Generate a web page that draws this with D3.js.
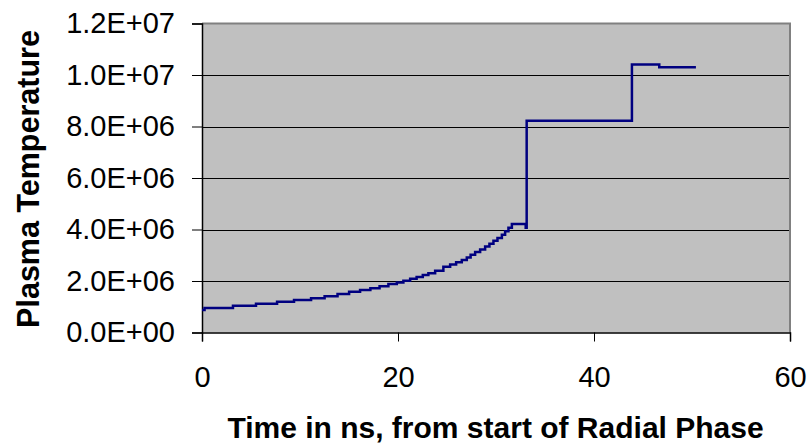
<!DOCTYPE html>
<html>
<head>
<meta charset="utf-8">
<script src="https://cdn.jsdelivr.net/npm/d3@7"></script>
<style>
  html, body { margin: 0; padding: 0; background: #fff; }
  svg { display: block; }
  text { font-family: "Liberation Sans", Arial, sans-serif; fill: #000; }
</style>
</head>
<body>
<svg id="chart" width="810" height="444"></svg>
<script>
// Time (ns) at which each step begins
const times = [0, 0.26, 3.16, 5.51, 7.66, 9.39, 11.13, 12.51, 13.83, 15.01, 16.13, 17.18,
  18.12, 19.02, 19.88, 20.55, 21.24, 21.90, 22.53, 23.10, 23.79, 24.63, 25.32, 25.93,
  26.51, 27.02, 27.41, 27.87, 28.38, 28.89, 29.33, 29.74, 30.15, 30.60, 30.93, 31.27,
  31.62, 33.03, 33.13, 43.87, 46.66, 50.40];
// Plasma temperature (K) for each step
const temps = [0.87e6, 0.955e6, 1.04e6, 1.12e6, 1.19e6, 1.26e6, 1.33e6, 1.41e6, 1.50e6, 1.58e6,
  1.65e6, 1.72e6, 1.80e6, 1.88e6, 1.94e6, 2.01e6, 2.09e6, 2.16e6, 2.23e6, 2.30e6, 2.40e6,
  2.55e6, 2.64e6, 2.73e6, 2.82e6, 2.91e6, 3.02e6, 3.13e6, 3.22e6, 3.34e6, 3.45e6, 3.56e6,
  3.67e6, 3.80e6, 3.93e6, 4.07e6, 4.21e6, 4.07e6, 8.22e6, 10.41e6, 10.30e6, 10.30e6];
const xTicks = [0, 20, 40, 60];
const yTicks = [0, 2e6, 4e6, 6e6, 8e6, 10e6, 12e6];
const xTitle = "Time in ns, from start of Radial Phase";
const yTitle = "Plasma Temperature";

const data = times.map((t, i) => ({ t, v: temps[i] }));

const svg = d3.select("#chart");
const L = 202, R = 790, T = 23.5, B = 332.5;
const x = d3.scaleLinear().domain([0, 60]).range([L, R]);
const y = d3.scaleLinear().domain([0, 12e6]).range([B, T]);

// plot background
svg.append("rect").attr("x", L).attr("y", T).attr("width", R - L).attr("height", B - T)
  .attr("fill", "#C0C0C0");

// gridlines
svg.append("g").selectAll("line").data(yTicks.filter(d => d > 0 && d < 12e6)).join("line")
  .attr("x1", L).attr("x2", R)
  .attr("y1", d => Math.round(y(d)) + 0.5).attr("y2", d => Math.round(y(d)) + 0.5)
  .attr("stroke", "#000").attr("stroke-width", 1);

// frame top/right
svg.append("path")
  .attr("d", `M${L},${T}H${R}V${B}`)
  .attr("fill", "none").attr("stroke", "#808080").attr("stroke-width", 2);

const fmt = d => {
  if (d === 0) return "0.0E+00";
  const e = Math.floor(Math.log10(d));
  const m = d / Math.pow(10, e);
  return m.toFixed(1) + "E+" + String(e).padStart(2, "0");
};

// y axis
const yAxis = svg.append("g").attr("transform", `translate(${L},0)`)
  .call(d3.axisLeft(y).tickValues(yTicks).tickFormat(fmt).tickSize(10).tickPadding(17));
yAxis.select(".domain").attr("stroke", "#000").attr("stroke-width", 1.5);
yAxis.selectAll(".tick line").attr("stroke", "#000");
yAxis.selectAll(".tick text").attr("font-size", "29px")
  .attr("font-family", "'Liberation Sans', Arial, sans-serif").attr("fill", "#000");

// x axis
const xAxis = svg.append("g").attr("transform", `translate(0,${B})`)
  .call(d3.axisBottom(x).tickValues(xTicks).tickFormat(d3.format("d")).tickSize(9).tickPadding(25));
xAxis.select(".domain").attr("stroke", "#000").attr("stroke-width", 1.5);
xAxis.selectAll(".tick line").attr("stroke", "#000");
xAxis.selectAll(".tick text").attr("font-size", "29px")
  .attr("font-family", "'Liberation Sans', Arial, sans-serif").attr("fill", "#000");

// line
const line = d3.line().x(d => x(d.t)).y(d => y(d.v)).curve(d3.curveStepAfter);
svg.append("path").datum(data).attr("d", line)
  .attr("fill", "none").attr("stroke", "#000080").attr("stroke-width", 2.5);

// titles
svg.append("text").attr("x", 495.5).attr("y", 438).attr("text-anchor", "middle")
  .attr("font-size", "30px").attr("font-weight", "bold").text(xTitle);
svg.append("text").attr("transform", "translate(39,179) rotate(-90)")
  .attr("text-anchor", "middle").attr("font-size", "30.5px").attr("font-weight", "bold").text(yTitle);
</script>
</body>
</html>
